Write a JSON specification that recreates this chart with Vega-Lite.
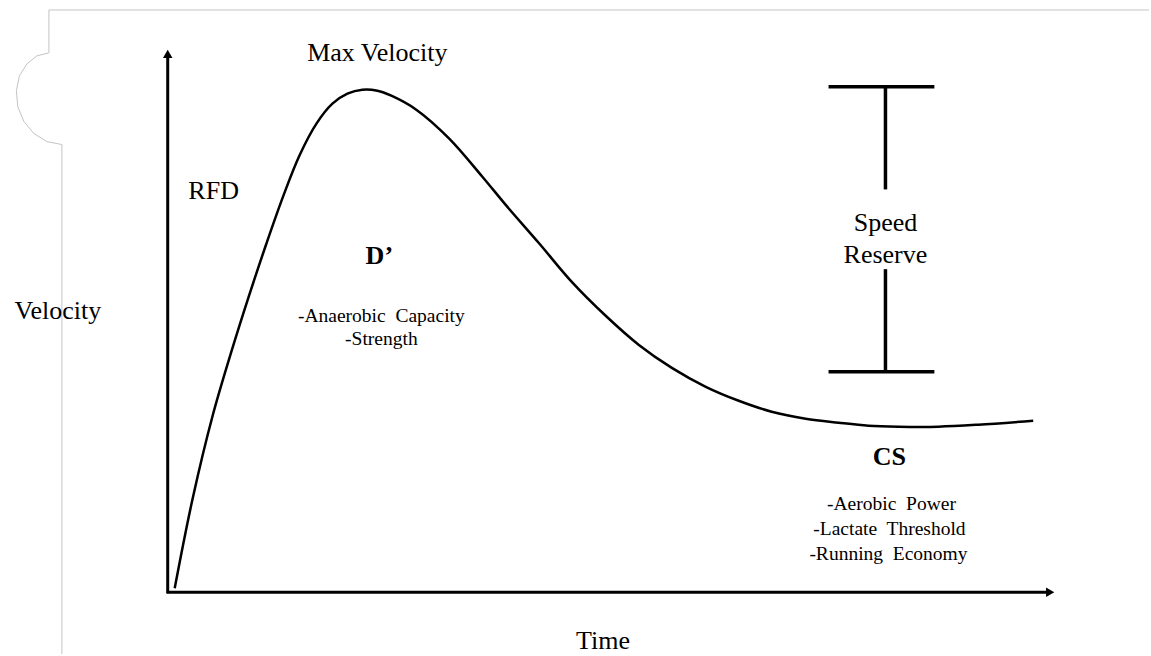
{
  "$schema": "https://vega.github.io/schema/vega-lite/v6.json",
  "width": 1151,
  "height": 656,
  "autosize": {"type": "fit", "contains": "padding"},
  "padding": 0,
  "background": "white",
  "config": {"view": {"stroke": null}, "font": "Liberation Serif"},
  "datasets": {
    "curve": [
      {"x": 175, "y": 590}, {"x": 193, "y": 500}, {"x": 213, "y": 417}, {"x": 232, "y": 352},
      {"x": 249, "y": 298}, {"x": 267, "y": 244}, {"x": 284, "y": 196}, {"x": 300, "y": 156},
      {"x": 317, "y": 124}, {"x": 333, "y": 104}, {"x": 348, "y": 94}, {"x": 363, "y": 90},
      {"x": 378, "y": 91}, {"x": 392, "y": 96}, {"x": 417, "y": 110}, {"x": 450, "y": 139},
      {"x": 483, "y": 177}, {"x": 507, "y": 206}, {"x": 540, "y": 244}, {"x": 573, "y": 283},
      {"x": 607, "y": 317}, {"x": 640, "y": 346}, {"x": 673, "y": 369}, {"x": 707, "y": 388},
      {"x": 740, "y": 402}, {"x": 773, "y": 413}, {"x": 807, "y": 420}, {"x": 840, "y": 424},
      {"x": 870, "y": 427}, {"x": 900, "y": 428}, {"x": 940, "y": 428}, {"x": 980, "y": 426},
      {"x": 1035, "y": 422}
    ],
    "frame": [
      {"i": 0, "x": 1151, "y": 10}, {"i": 1, "x": 49, "y": 10}, {"i": 2, "x": 49, "y": 53},
      {"i": 3, "x": 37, "y": 56}, {"i": 4, "x": 27, "y": 64}, {"i": 5, "x": 19.5, "y": 76},
      {"i": 6, "x": 16.4, "y": 91}, {"i": 7, "x": 17.8, "y": 107}, {"i": 8, "x": 24, "y": 122},
      {"i": 9, "x": 34, "y": 134}, {"i": 10, "x": 47, "y": 142}, {"i": 11, "x": 62, "y": 145},
      {"i": 12, "x": 62, "y": 656}
    ],
    "axes": [
      {"x": 168, "y": 595, "x2": 168, "y2": 55},
      {"x": 167, "y": 594, "x2": 1050, "y2": 594}
    ],
    "arrowUp": [{"x": 168, "y": 54}],
    "arrowRight": [{"x": 1052, "y": 594}],
    "bracket": [
      {"x": 830, "y": 87, "x2": 936, "y2": 87},
      {"x": 887, "y": 87, "x2": 887, "y2": 190},
      {"x": 887, "y": 270, "x2": 887, "y2": 373},
      {"x": 830, "y": 373, "x2": 936, "y2": 373}
    ],
    "labels": [
      {"g": "big", "text": "Max Velocity", "x": 378, "y": 53},
      {"g": "big", "text": "RFD", "x": 214, "y": 192},
      {"g": "big", "text": "Velocity", "x": 58, "y": 312},
      {"g": "big", "text": "Time", "x": 604, "y": 643},
      {"g": "big", "text": "Speed", "x": 887, "y": 224},
      {"g": "big", "text": "Reserve", "x": 887, "y": 256},
      {"g": "bold", "text": "D’", "x": 380, "y": 257},
      {"g": "bold", "text": "CS", "x": 891, "y": 458},
      {"g": "small", "text": "-Anaerobic\u00a0 Capacity", "x": 382, "y": 317},
      {"g": "small", "text": "-Strength", "x": 382, "y": 340},
      {"g": "small", "text": "-Aerobic\u00a0 Power", "x": 893, "y": 506},
      {"g": "small", "text": "-Lactate\u00a0 Threshold", "x": 891, "y": 531},
      {"g": "small", "text": "-Running\u00a0 Economy", "x": 890, "y": 556}
    ]
  },
  "encoding": {
    "x": {"field": "x", "type": "quantitative", "scale": {"domain": [0, 1151], "nice": false, "zero": false}, "axis": null},
    "y": {"field": "y", "type": "quantitative", "scale": {"domain": [656, 0], "nice": false, "zero": false}, "axis": null}
  },
  "layer": [
    {
      "data": {"name": "frame"},
      "mark": {"type": "line", "color": "#c4c4c4", "strokeWidth": 1, "interpolate": "linear"},
      "encoding": {"order": {"field": "i", "type": "quantitative"}}
    },
    {
      "data": {"name": "axes"},
      "mark": {"type": "rule", "color": "black", "strokeWidth": 3},
      "encoding": {"x2": {"field": "x2"}, "y2": {"field": "y2"}}
    },
    {
      "data": {"name": "arrowUp"},
      "mark": {"type": "point", "shape": "triangle-up", "filled": true, "color": "black", "size": 90, "opacity": 1},
      "encoding": {}
    },
    {
      "data": {"name": "arrowRight"},
      "mark": {"type": "point", "shape": "triangle-right", "filled": true, "color": "black", "size": 90, "opacity": 1},
      "encoding": {}
    },
    {
      "data": {"name": "curve"},
      "mark": {"type": "line", "color": "black", "strokeWidth": 2.5, "interpolate": "catmull-rom"},
      "encoding": {}
    },
    {
      "data": {"name": "bracket"},
      "mark": {"type": "rule", "color": "black", "strokeWidth": 3.5},
      "encoding": {"x2": {"field": "x2"}, "y2": {"field": "y2"}}
    },
    {
      "data": {"name": "labels"},
      "transform": [{"filter": "datum.g === 'big'"}],
      "mark": {"type": "text", "font": "Liberation Serif", "fontSize": 26, "align": "center", "baseline": "middle", "color": "black"},
      "encoding": {"text": {"field": "text"}}
    },
    {
      "data": {"name": "labels"},
      "transform": [{"filter": "datum.g === 'bold'"}],
      "mark": {"type": "text", "font": "Liberation Serif", "fontSize": 26, "fontWeight": "bold", "align": "center", "baseline": "middle", "color": "black"},
      "encoding": {"text": {"field": "text"}}
    },
    {
      "data": {"name": "labels"},
      "transform": [{"filter": "datum.g === 'small'"}],
      "mark": {"type": "text", "font": "Liberation Serif", "fontSize": 19.5, "align": "center", "baseline": "middle", "color": "black"},
      "encoding": {"text": {"field": "text"}}
    }
  ]
}
